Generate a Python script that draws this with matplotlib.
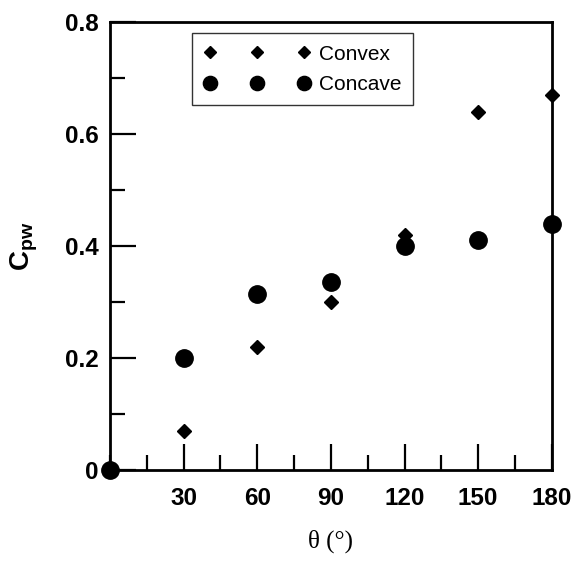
import matplotlib.pyplot as plt
from matplotlib.ticker import MultipleLocator

plt.rcParams['font.family'] = ['Liberation Sans', 'DejaVu Sans']
plt.rcParams['mathtext.fontset'] = 'custom'
plt.rcParams['mathtext.bf'] = 'Liberation Sans:bold'
plt.rcParams['mathtext.rm'] = 'Liberation Sans'

# data
theta = [0, 30, 60, 90, 120, 150, 180]
cpw_convex = [0.0, 0.07, 0.22, 0.30, 0.42, 0.64, 0.67]
cpw_concave = [0.0, 0.20, 0.315, 0.335, 0.40, 0.41, 0.44]

xticks = [30, 60, 90, 120, 150, 180]
yticks = [0, 0.2, 0.4, 0.6, 0.8]
ytick_labels = ['0', '0.2', '0.4', '0.6', '0.8']

fig = plt.figure(figsize=(5.76, 5.61), dpi=100)
ax = fig.add_axes([0.191, 0.162, 0.767, 0.799])

ax.plot(theta, cpw_convex, linestyle='none', marker='D', markersize=7.5,
        color='black', clip_on=False, zorder=3, label='Convex')
ax.plot(theta, cpw_concave, linestyle='none', marker='o', markersize=12.5,
        color='black', clip_on=False, zorder=4, label='Concave')

ax.set_xlim(0, 180)
ax.set_ylim(0, 0.8)
ax.set_xticks(xticks)
ax.set_yticks(yticks)
ax.set_yticklabels(ytick_labels)
ax.xaxis.set_minor_locator(MultipleLocator(15))
ax.yaxis.set_minor_locator(MultipleLocator(0.1))

ax.tick_params(which='both', direction='in', top=False, right=False, width=1.6)
ax.tick_params(which='major', length=19, labelsize=17.5)
ax.tick_params(which='minor', length=10.5)
ax.tick_params(axis='x', which='major', pad=12)
ax.tick_params(axis='y', which='major', pad=8)
for lab in ax.get_xticklabels() + ax.get_yticklabels():
    lab.set_fontweight('bold')

for sp in ax.spines.values():
    sp.set_linewidth(2.0)

ax.set_xlabel('θ (°)', family=['Liberation Serif', 'DejaVu Serif'],
              fontsize=18, labelpad=14)
ax.set_ylabel(r'$\mathbf{C_{pw}}$', fontsize=20, labelpad=18)

leg = ax.legend(loc='upper left', bbox_to_anchor=(0.186, 0.975),
                borderaxespad=0, numpoints=3, markerscale=0.82,
                handlelength=5.1, handletextpad=0.45, fontsize=15,
                frameon=True, fancybox=False, borderpad=0.55,
                labelspacing=0.55)
leg.get_frame().set_edgecolor('black')
leg.get_frame().set_linewidth(1.0)

fig.savefig('out.png', dpi=100)
